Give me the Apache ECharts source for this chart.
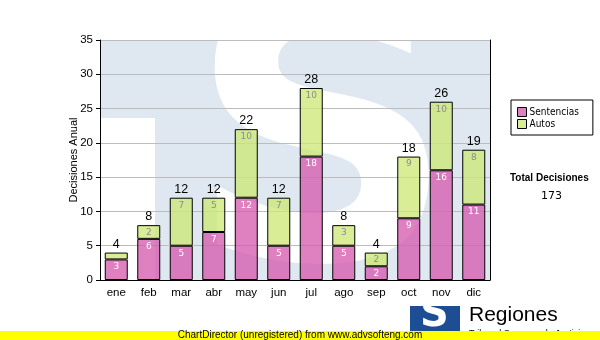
<!DOCTYPE html>
<html>
<head>
<meta charset="utf-8">
<script src="https://cdn.jsdelivr.net/npm/echarts@6/dist/echarts.min.js"></script>
<style>html,body{margin:0;padding:0;background:#fff}#c{width:600px;height:340px}</style>
</head>
<body>
<div id="c"></div>
<script>
var categories = ['ene','feb','mar','abr','may','jun','jul','ago','sep','oct','nov','dic'];
var sentencias = [3,6,5,7,12,5,18,5,2,9,16,11];
var autos = [1,2,7,5,10,7,10,3,2,9,10,8];
var yTicks = [0,5,10,15,20,25,30,35];
var totalDecisiones = 173;

var totals = sentencias.map(function(v,i){return v+autos[i];});
var G = {left:100, top:40, right:490, bottom:280};

var chart = echarts.init(document.getElementById('c'), null, {renderer:'canvas'});
chart.setOption({
  animation:false,
  backgroundColor:'#fff',
  grid:{left:G.left, top:G.top, width:G.right-G.left, height:G.bottom-G.top},
  legend:{
    orient:'vertical', left:511, top:100, width:70,
    padding:[7,14,6,6], itemGap:2,
    borderColor:'#000', borderWidth:1,
    itemWidth:9, itemHeight:9, icon:'rect',
    itemStyle:{borderColor:'#000', borderWidth:1},
    textStyle:{fontFamily:'DejaVu Sans Condensed', fontSize:10, color:'#000', padding:[0,0,0,-2]},
    data:['Sentencias','Autos']
  },
  xAxis:{
    type:'category', data:categories,
    axisLine:{lineStyle:{color:'#000'}},
    axisTick:{alignWithLabel:true, length:4, lineStyle:{color:'#000'}},
    axisLabel:{fontFamily:'Liberation Sans', fontSize:11.5, color:'#000', margin:7}
  },
  yAxis:[{
    type:'value', min:yTicks[0], max:yTicks[yTicks.length-1], interval:yTicks[1]-yTicks[0],
    name:'Decisiones Anual', nameLocation:'middle', nameGap:21, nameMoveOverlap:false,
    nameTextStyle:{fontFamily:'Liberation Sans', fontSize:11, color:'#000'},
    axisLine:{show:true, lineStyle:{color:'#000'}},
    axisTick:{show:true, length:4, lineStyle:{color:'#000'}},
    axisLabel:{fontFamily:'Liberation Sans', fontSize:11.5, color:'#000', margin:7},
    splitLine:{lineStyle:{color:'#bcbcbc'}}
  },{
    type:'value', min:yTicks[0], max:yTicks[yTicks.length-1], interval:yTicks[1]-yTicks[0],
    position:'right',
    axisLine:{show:true, lineStyle:{color:'#000'}},
    axisTick:{show:false}, axisLabel:{show:false}, splitLine:{show:false}
  }],
  series:[{
    name:'Sentencias', type:'bar', stack:'a', data:sentencias, barWidth:23,
    itemStyle:{color:'rgba(214,92,176,0.78)', borderColor:'#000', borderWidth:1},
    label:{show:true, position:'insideTop', distance:3, color:'#fff',
      fontFamily:'DejaVu Sans', fontSize:9}
  },{
    name:'Autos', type:'bar', stack:'a', data:autos, barWidth:23,
    itemStyle:{color:'rgba(205,232,120,0.78)', borderColor:'#000', borderWidth:1},
    label:{show:true, position:'insideTop', distance:3, color:'#8c8c8c',
      fontFamily:'DejaVu Sans', fontSize:9,
      formatter:function(p){return p.value>1?p.value:'';}}
  },{
    name:'Total', type:'bar', stack:'a', barWidth:23,
    data:totals.map(function(){return 0;}),
    itemStyle:{color:'rgba(0,0,0,0)', borderWidth:0},
    label:{show:true, position:'top', distance:2, color:'#000',
      fontFamily:'Liberation Sans', fontSize:12.5,
      formatter:function(p){return totals[p.dataIndex];}}
  }],
  graphic:[
    {type:'rect', z:-10, silent:true, shape:{x:G.left, y:G.top, width:G.right-G.left, height:G.bottom-G.top}, style:{fill:'#dfe8f1'}},
    {type:'rect', z:-9, silent:true, shape:{x:G.left, y:118, width:55, height:G.bottom-118}, style:{fill:'#fff'}},
    {type:'text', z:-9, silent:true, left:188, top:-24, style:{text:'S', fill:'#fff', font:'bold 372px "DejaVu Sans"'}},
    {type:'text', silent:true, left:510, top:173, style:{text:'Total Decisiones', fill:'#000', font:'bold 10px "Liberation Sans"'}},
    {type:'text', silent:true, left:541, top:191, style:{text:String(totalDecisiones), fill:'#000', font:'11px "DejaVu Sans"'}},
    {type:'rect', silent:true, shape:{x:410, y:306, width:50, height:34}, style:{fill:'#1d4e94'}},
    {type:'text', silent:true, left:420, top:296, style:{text:'S', fill:'#fff', font:'bold 40px "DejaVu Sans"'}},
    {type:'text', silent:true, left:469, top:305, style:{text:'Regiones', fill:'#000', font:'21px "Liberation Sans"'}},
    {type:'text', silent:true, left:469, top:329, style:{text:'Tribunal Supremo de Justicia', fill:'#000', font:'9px "Liberation Sans"'}},
    {type:'rect', silent:true, shape:{x:0, y:331, width:600, height:9}, style:{fill:'#ffff00'}},
    {type:'text', silent:true, left:'center', top:330, style:{text:'ChartDirector (unregistered) from www.advsofteng.com', fill:'#000', font:'10px "Liberation Sans"'}}
  ]
});
</script>
</body>
</html>
